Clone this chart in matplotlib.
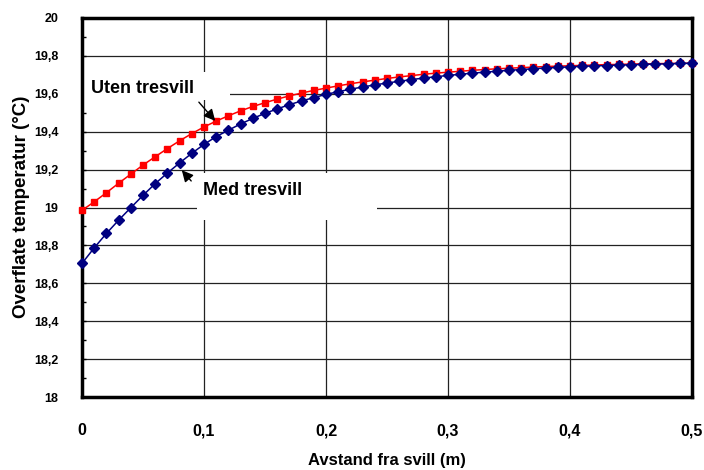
import matplotlib
matplotlib.use("Agg")
import matplotlib.pyplot as plt
from matplotlib.patches import Rectangle
from matplotlib.ticker import MultipleLocator

x_vals = [round(i * 0.01, 2) for i in range(51)]
uten_tresvill = [18.985, 19.030, 19.078, 19.128, 19.176, 19.224, 19.268, 19.311, 19.352, 19.390,
                 19.425, 19.456, 19.484, 19.510, 19.533, 19.553, 19.572, 19.589, 19.604, 19.618,
                 19.630, 19.642, 19.653, 19.663, 19.672, 19.681, 19.689, 19.696, 19.703, 19.709,
                 19.714, 19.719, 19.724, 19.728, 19.732, 19.735, 19.738, 19.741, 19.744, 19.746,
                 19.748, 19.750, 19.752, 19.754, 19.755, 19.757, 19.758, 19.759, 19.760, 19.761,
                 19.762]
med_tresvill = [18.705, 18.787, 18.863, 18.933, 18.999, 19.064, 19.126, 19.182, 19.235, 19.286,
                19.333, 19.374, 19.408, 19.441, 19.470, 19.497, 19.520, 19.543, 19.562, 19.580,
                19.597, 19.611, 19.624, 19.636, 19.647, 19.657, 19.666, 19.675, 19.683, 19.690,
                19.697, 19.703, 19.709, 19.714, 19.719, 19.724, 19.728, 19.732, 19.736, 19.739,
                19.742, 19.745, 19.747, 19.749, 19.751, 19.753, 19.755, 19.757, 19.758, 19.760,
                19.761]
x_ticks = [0, 0.1, 0.2, 0.3, 0.4, 0.5]
x_ticklabels = ["0", "0,1", "0,2", "0,3", "0,4", "0,5"]
y_ticks = [18, 18.2, 18.4, 18.6, 18.8, 19, 19.2, 19.4, 19.6, 19.8, 20]
y_ticklabels = ["18", "18,2", "18,4", "18,6", "18,8", "19", "19,2", "19,4", "19,6", "19,8", "20"]

regular = ["Liberation Sans", "DejaVu Sans"]

fig = plt.figure(figsize=(7.04, 4.70), dpi=100)
ax = fig.add_axes([82 / 704, 1 - 397 / 470, 610 / 704, 379 / 470])
ax.set_xlim(0, 0.5)
ax.set_ylim(18, 20)

ax.set_xticks(x_ticks)
ax.set_xticklabels(x_ticklabels, family=regular, fontweight="bold", fontsize=11.5)
ax.set_yticks(y_ticks)
ax.set_yticklabels(y_ticklabels, family=regular, fontweight="bold", fontsize=9)
ax.yaxis.set_minor_locator(MultipleLocator(0.1))
ax.tick_params(axis="x", which="both", length=0, pad=19)
ax.tick_params(axis="y", which="both", direction="in", length=3, width=1, pad=17)

ax.grid(True, which="major", color="#222222", linewidth=0.9, zorder=0)
ax.set_axisbelow(True)
for s in ax.spines.values():
    s.set_linewidth(2.5)
    s.set_color("black")

# white label boxes that hide the grid
ax.add_patch(Rectangle((0.0, 19.567), 0.1213, 0.148, facecolor="white", edgecolor="none", zorder=1))
ax.add_patch(Rectangle((0.0943, 18.934), 0.1475, 0.248, facecolor="white", edgecolor="none", zorder=1))

ax.plot(x_vals, uten_tresvill, color="#ff0000", marker="s", markersize=4.3, linewidth=1.1, zorder=3, clip_on=False)
ax.plot(x_vals, med_tresvill, color="#000080", marker="D", markersize=5, linewidth=1.1, zorder=3, clip_on=False)

ax.text(0.0074, 19.63, "Uten tresvill", family=regular, fontweight="bold", fontsize=13,
        ha="left", va="center", zorder=4)
ax.text(0.099, 19.092, "Med tresvill", family=regular, fontweight="bold", fontsize=13,
        ha="left", va="center", zorder=4)
ax.annotate("", xy=(0.1107, 19.446), xytext=(0.0943, 19.567),
            arrowprops=dict(arrowstyle="-|>", color="black", lw=1, mutation_scale=17), zorder=4)
ax.annotate("", xy=(0.0803, 19.208), xytext=(0.091, 19.129),
            arrowprops=dict(arrowstyle="-|>", color="black", lw=1, mutation_scale=17), zorder=4)

fig.text(387 / 704, 1 - 460 / 470, "Avstand fra svill (m)", family=regular, fontweight="bold",
         fontsize=12, ha="center", va="center")
fig.text(22 / 704, 1 - 207 / 470, "Overflate temperatur (°C)", family=regular, fontweight="bold",
         fontsize=13.5, ha="center", va="center", rotation=90)

fig.savefig("out.png", dpi=100)
